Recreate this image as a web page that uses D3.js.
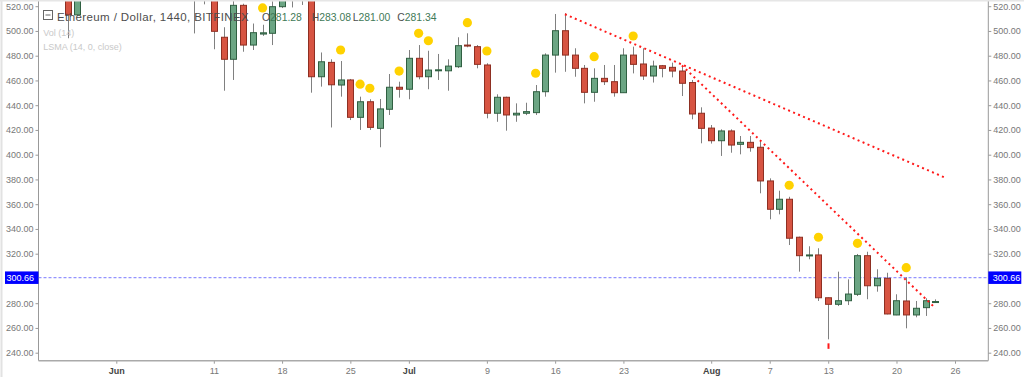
<!DOCTYPE html>
<html lang="en">
<head>
	<meta charset="UTF-8">
	<title>Ethereum / Dollar, 1440, BITFINEX</title>

	<script type="text/javascript" src="https://cdn.jsdelivr.net/npm/d3@7"></script>

	<style>
		body {
			margin: 0;
			background: #fff;
		}

		svg text {
			font-family: "Liberation Sans", Arial, sans-serif;
		}
	</style>
</head>
<body>

<div id="chart"></div>

<script type="text/javascript">
	// daily candles (1440)
	var dates = ["2018-05-27", "2018-05-28", "2018-06-09", "2018-06-10", "2018-06-11", "2018-06-12", "2018-06-13",
		"2018-06-14", "2018-06-15", "2018-06-16", "2018-06-17", "2018-06-18", "2018-06-19", "2018-06-20",
		"2018-06-21", "2018-06-22", "2018-06-23", "2018-06-24", "2018-06-25", "2018-06-26", "2018-06-27",
		"2018-06-28", "2018-06-29", "2018-06-30", "2018-07-01", "2018-07-02", "2018-07-03", "2018-07-04",
		"2018-07-05", "2018-07-06", "2018-07-07", "2018-07-08", "2018-07-09", "2018-07-10", "2018-07-11",
		"2018-07-12", "2018-07-13", "2018-07-14", "2018-07-15", "2018-07-16", "2018-07-17", "2018-07-18",
		"2018-07-19", "2018-07-20", "2018-07-21", "2018-07-22", "2018-07-23", "2018-07-24", "2018-07-25",
		"2018-07-26", "2018-07-27", "2018-07-28", "2018-07-29", "2018-07-30", "2018-07-31", "2018-08-01",
		"2018-08-02", "2018-08-03", "2018-08-04", "2018-08-05", "2018-08-06", "2018-08-07", "2018-08-08",
		"2018-08-09", "2018-08-10", "2018-08-11", "2018-08-12", "2018-08-13", "2018-08-14", "2018-08-15",
		"2018-08-16", "2018-08-17", "2018-08-18", "2018-08-19", "2018-08-20", "2018-08-21", "2018-08-22",
		"2018-08-23", "2018-08-24"];

	var opens = [535, 513, 540, 535, 530, 494.9, 477.1,
		520.7, 488.6, 497.5, 498.1, 519.6, 535, 537,
		532, 463, 474.6, 456.3, 460.4, 430.2, 442.8,
		421.3, 436.7, 454.5, 452.9, 477.9, 463, 467.9,
		467.8, 471.1, 488.6, 487.3, 472.5, 433.5, 446.4,
		432.1, 433.5, 434, 450.9, 480.5, 500.2, 480.5,
		469.8, 450.4, 461.7, 459, 450.1, 480.5, 473.3,
		463.6, 471.9, 470.6, 467.6, 458.3, 433.5, 421.5,
		411.3, 419.2, 408.4, 410, 406, 378.8, 355.9,
		364, 333.3, 318.4, 319, 284.4, 279.1, 282,
		287.2, 318.4, 294.1, 300.1, 270.5, 281.8, 270.5,
		276.4, 281.28];

	var highs = [540, 540, 548, 545, 535, 503, 526,
		522, 506, 505, 524, 535, 545, 540,
		537, 482.6, 477.1, 475.7, 461.2, 446.9, 444.8,
		445, 465.2, 459, 484.6, 488.6, 484, 481.4,
		477.1, 494.9, 498.1, 488.6, 473.9, 448.8, 446.9,
		441.5, 442, 456.3, 481.9, 513.7, 514.3, 486,
		472.5, 469.8, 472.5, 472.5, 486, 487.3, 486,
		476, 472.5, 474.4, 471.1, 460.4, 438.3, 424,
		420.5, 420.5, 415.1, 415.1, 410.5, 380.9, 370.9,
		366, 333.8, 326, 324.4, 284.6, 305.5, 299.3,
		319.8, 321.6, 307.4, 304.6, 287.2, 301, 281.8,
		284, 283.08];

	var lows = [494.1, 512, 498, 521.5, 485.2, 451.7, 460.4,
		483.2, 484.6, 496, 488.6, 518.5, 519, 521,
		450.1, 455, 422, 446.9, 428, 420, 420,
		406, 432.1, 446.1, 444.8, 460.9, 452.9, 460.4,
		451.7, 470, 486.8, 469.8, 429.4, 426.6, 419.4,
		426.6, 432, 432.1, 446.9, 466.3, 467, 463,
		441.5, 442.8, 456.3, 446.9, 450.1, 465.7, 460.4,
		458.3, 462.5, 462.5, 447.4, 428.6, 409.2, 409,
		399, 401.6, 400.3, 402.4, 368.8, 347.8, 351.8,
		327, 305.5, 315.5, 281.8, 250.8, 277.7, 278.5,
		285.8, 283.2, 289.3, 271, 270.3, 259.7, 268.6,
		269.7, 281.00];

	var closes = [513, 535, 535, 530, 499.7, 477.1, 520.7,
		488.6, 498.6, 498.5, 519.6, 530, 537, 532,
		463, 475.1, 456.5, 460.4, 430.2, 442.8, 422.1,
		437, 454.5, 452.9, 477.9, 463, 468.4, 468.6,
		471.6, 488.1, 487.8, 473, 433.5, 446.4, 432.1,
		433.5, 434.8, 450.9, 480.5, 500.2, 480.5, 469.8,
		450.4, 461.7, 459, 450.1, 480.5, 473, 463.6,
		471.6, 469.8, 467.6, 457.7, 432.9, 421.3, 411.3,
		419.2, 407.8, 410, 405.7, 378.8, 355.9, 364,
		332.5, 318.4, 319, 284.4, 279.1, 282, 287.4,
		318.4, 294.1, 300.1, 271.3, 282, 270.5, 275.9,
		282, 281.34];

	// yellow pivot dots
	var dotDates = ["2018-06-16", "2018-06-24", "2018-06-26", "2018-06-27", "2018-06-30", "2018-07-02",
		"2018-07-03", "2018-07-07", "2018-07-09", "2018-07-14", "2018-07-20", "2018-07-24",
		"2018-08-09", "2018-08-12", "2018-08-16", "2018-08-21"];
	var dotValues = [518.6, 484.6, 457, 453.7, 467.6, 498.1,
		492.1, 506.7, 483.8, 465.8, 479.2, 495.9,
		375.3, 333.3, 328.4, 308.7];

	// red dotted trend lines [date, price]
	var trendUpper = [["2018-07-17", 513.5], ["2018-08-25", 381.4]];
	var trendLower = [["2018-07-29", 472.1], ["2018-08-24", 275.9]];

	// little red mark under the lowest candle
	var lowMarkDates = ["2018-08-13"];

	var priceLine = 300.66;

	var yTicks = [240, 260, 280, 300, 320, 340, 360, 380, 400, 420, 440, 460, 480, 500, 520];
	var xTickDates = ["2018-06-01", "2018-06-11", "2018-06-18", "2018-06-25", "2018-07-01", "2018-07-09",
		"2018-07-16", "2018-07-23", "2018-08-01", "2018-08-07", "2018-08-13", "2018-08-20", "2018-08-26"];
	var xTickLabels = ["Jun", "11", "18", "25", "Jul", "9", "16", "23", "Aug", "7", "13", "20", "26"];
	var monthLabels = ["Jun", "Jul", "Aug"];

	var title = "Ethereum / Dollar, 1440, BITFINEX";
	var ohlc = [["O", "281.28"], ["H", "283.08"], ["L", "281.00"], ["C", "281.34"]];
	var studies = ["Vol (14)", "LSMA (14, 0, close)"];

	window.onload = function () {

		var W = 1024, H = 377;
		var plot = {left: 38.5, right: 988.3, top: 0, bottom: 360.7};

		var parse = d3.utcParse("%Y-%m-%d");

		var candles = dates.map(function (d, i) {
			return {date: parse(d), open: opens[i], high: highs[i], low: lows[i], close: closes[i]};
		});

		var svg = d3.select('#chart')
			.append('svg')
			.attr('width', W)
			.attr('height', H);

		var x = d3.scaleUtc()
			.domain([parse("2018-06-01"), parse("2018-08-26")])
			.range([116.3, 955]);

		var y = d3.scaleLinear()
			.domain([240, 520])
			.range([352.7, 6.2]);

		svg.append('clipPath')
			.attr('id', 'plot-clip')
			.append('rect')
			.attr('x', plot.left)
			.attr('y', plot.top)
			.attr('width', plot.right - plot.left)
			.attr('height', plot.bottom - plot.top);

		// axes
		var yLeft = svg.append('g')
			.attr('transform', 'translate(' + plot.left + ',0)')
			.call(d3.axisLeft(y).tickValues(yTicks).tickSize(3).tickPadding(2).tickFormat(d3.format('.2f')));

		var yRight = svg.append('g')
			.attr('transform', 'translate(' + plot.right + ',0)')
			.call(d3.axisRight(y).tickValues(yTicks).tickSize(3).tickPadding(2).tickFormat(d3.format('.2f')));

		var xAxis = svg.append('g')
			.attr('transform', 'translate(0,' + plot.bottom + ')')
			.call(d3.axisBottom(x)
				.tickValues(xTickDates.map(parse))
				.tickSize(3)
				.tickPadding(4)
				.tickFormat(function (d, i) {
					return xTickLabels[i];
				}));

		[yLeft, yRight, xAxis].forEach(function (ax) {
			ax.select('.domain').remove();
			ax.selectAll('.tick line').attr('stroke', '#9a9a9a');
			ax.selectAll('text')
				.attr('fill', '#777')
				.style('font-size', '9px');
		});

		xAxis.selectAll('text')
			.attr('fill', function (d, i) {
				return monthLabels.indexOf(xTickLabels[i]) >= 0 ? '#444' : '#777';
			})
			.style('font-weight', function (d, i) {
				return monthLabels.indexOf(xTickLabels[i]) >= 0 ? 'bold' : 'normal';
			});

		// axis lines and frame
		svg.append('line')
			.attr('x1', plot.left).attr('x2', plot.left)
			.attr('y1', 0).attr('y2', plot.bottom)
			.attr('stroke', '#999').attr('stroke-width', 1);
		svg.append('line')
			.attr('x1', plot.right).attr('x2', plot.right)
			.attr('y1', 0).attr('y2', plot.bottom)
			.attr('stroke', '#999').attr('stroke-width', 1);
		svg.append('line')
			.attr('x1', plot.left).attr('x2', plot.right)
			.attr('y1', plot.bottom).attr('y2', plot.bottom)
			.attr('stroke', '#aaa').attr('stroke-width', 1.5);
		svg.append('line')
			.attr('x1', 1.5).attr('x2', 1.5)
			.attr('y1', 0).attr('y2', H)
			.attr('stroke', '#e2e2e2').attr('stroke-width', 2);

		var g = svg.append('g')
			.attr('clip-path', 'url(#plot-clip)');

		// price line
		g.append('line')
			.attr('x1', plot.left).attr('x2', plot.right)
			.attr('y1', y(priceLine)).attr('y2', y(priceLine))
			.attr('stroke', '#9494ff')
			.attr('stroke-width', 1.2)
			.attr('stroke-dasharray', '3,2');

		// candles
		g.selectAll('.wick')
			.data(candles)
			.enter().append('line')
			.attr('class', 'wick')
			.attr('x1', function (d) { return Math.round(x(d.date)) + 0.5; })
			.attr('x2', function (d) { return Math.round(x(d.date)) + 0.5; })
			.attr('y1', function (d) { return y(d.high); })
			.attr('y2', function (d) { return y(d.low); })
			.attr('stroke', '#808080')
			.attr('stroke-width', 1);

		g.selectAll('.body')
			.data(candles)
			.enter().append('rect')
			.attr('class', 'body')
			.attr('x', function (d) { return Math.round(x(d.date)) - 2.5; })
			.attr('y', function (d) { return y(Math.max(d.open, d.close)); })
			.attr('width', 6)
			.attr('height', function (d) {
				return Math.max(1, Math.abs(y(d.open) - y(d.close)));
			})
			.attr('fill', function (d) { return d.close >= d.open ? '#6ba583' : '#d75442'; })
			.attr('stroke', function (d) { return d.close >= d.open ? '#2f5f41' : '#8e2f22'; })
			.attr('stroke-width', 1);

		// red mark below the low
		g.selectAll('.low-mark')
			.data(candles.filter(function (d) {
				return lowMarkDates.indexOf(d3.utcFormat('%Y-%m-%d')(d.date)) >= 0;
			}))
			.enter().append('rect')
			.attr('class', 'low-mark')
			.attr('x', function (d) { return Math.round(x(d.date)) - 0.5; })
			.attr('y', function (d) { return y(d.low) + 4; })
			.attr('width', 2)
			.attr('height', 5.5)
			.attr('fill', '#ff1a1a');

		// trend lines
		var line = d3.line()
			.x(function (d) { return x(parse(d[0])); })
			.y(function (d) { return y(d[1]); });

		g.selectAll('.trend')
			.data([trendUpper, trendLower])
			.enter().append('path')
			.attr('class', 'trend')
			.attr('d', line)
			.attr('fill', 'none')
			.attr('stroke', '#ff1a1a')
			.attr('stroke-width', 2)
			.attr('stroke-dasharray', '2,3.4');

		// pivot dots
		g.selectAll('.pivot')
			.data(dotDates)
			.enter().append('circle')
			.attr('class', 'pivot')
			.attr('cx', function (d) { return x(parse(d)); })
			.attr('cy', function (d, i) { return y(dotValues[i]); })
			.attr('r', 4.6)
			.attr('fill', '#ffd200');

		// price label boxes
		[{x: 5, w: plot.left - 5, anchor: 'end', tx: plot.left - 4.5},
			{x: plot.right, w: 33, anchor: 'start', tx: plot.right + 4.5}].forEach(function (b) {
			svg.append('rect')
				.attr('x', b.x)
				.attr('y', y(priceLine) - 6.2)
				.attr('width', b.w)
				.attr('height', 12.5)
				.attr('fill', '#0000ff');
			svg.append('text')
				.attr('x', b.tx)
				.attr('y', y(priceLine) + 3.3)
				.attr('text-anchor', b.anchor)
				.attr('fill', '#fff')
				.style('font-size', '9px')
				.text(priceLine.toFixed(2));
		});

		// top border
		svg.append('rect')
			.attr('x', 0).attr('y', 0)
			.attr('width', W).attr('height', 1.5)
			.attr('fill', '#e6e6e6');

		// legend / title
		svg.append('rect')
			.attr('x', 43.5).attr('y', 10.5)
			.attr('width', 9).attr('height', 9)
			.attr('fill', 'none')
			.attr('stroke', '#666');
		svg.append('line')
			.attr('x1', 45.5).attr('x2', 50.5)
			.attr('y1', 15).attr('y2', 15)
			.attr('stroke', '#666');

		svg.append('text')
			.attr('x', 57)
			.attr('y', 20.5)
			.attr('fill', '#4d4d4d')
			.style('font-size', '11.5px')
			.style('letter-spacing', '0.4px')
			.text(title);

		var ohlcX = [262, 311.7, 352.7, 397.3];
		ohlc.forEach(function (p, i) {
			var t = svg.append('text')
				.attr('x', ohlcX[i])
				.attr('y', 20.5)
				.style('font-size', '10.4px');
			t.append('tspan').attr('fill', '#4d4d4d').text(p[0]);
			t.append('tspan').attr('fill', '#3f7a57').text(p[1]);
		});

		studies.forEach(function (s, i) {
			svg.append('text')
				.attr('x', 43.3)
				.attr('y', 35.5 + i * 14.5)
				.attr('fill', '#c9c9c9')
				.style('font-size', '9px')
				.text(s);
		});
	};
</script>
</body>
</html>
